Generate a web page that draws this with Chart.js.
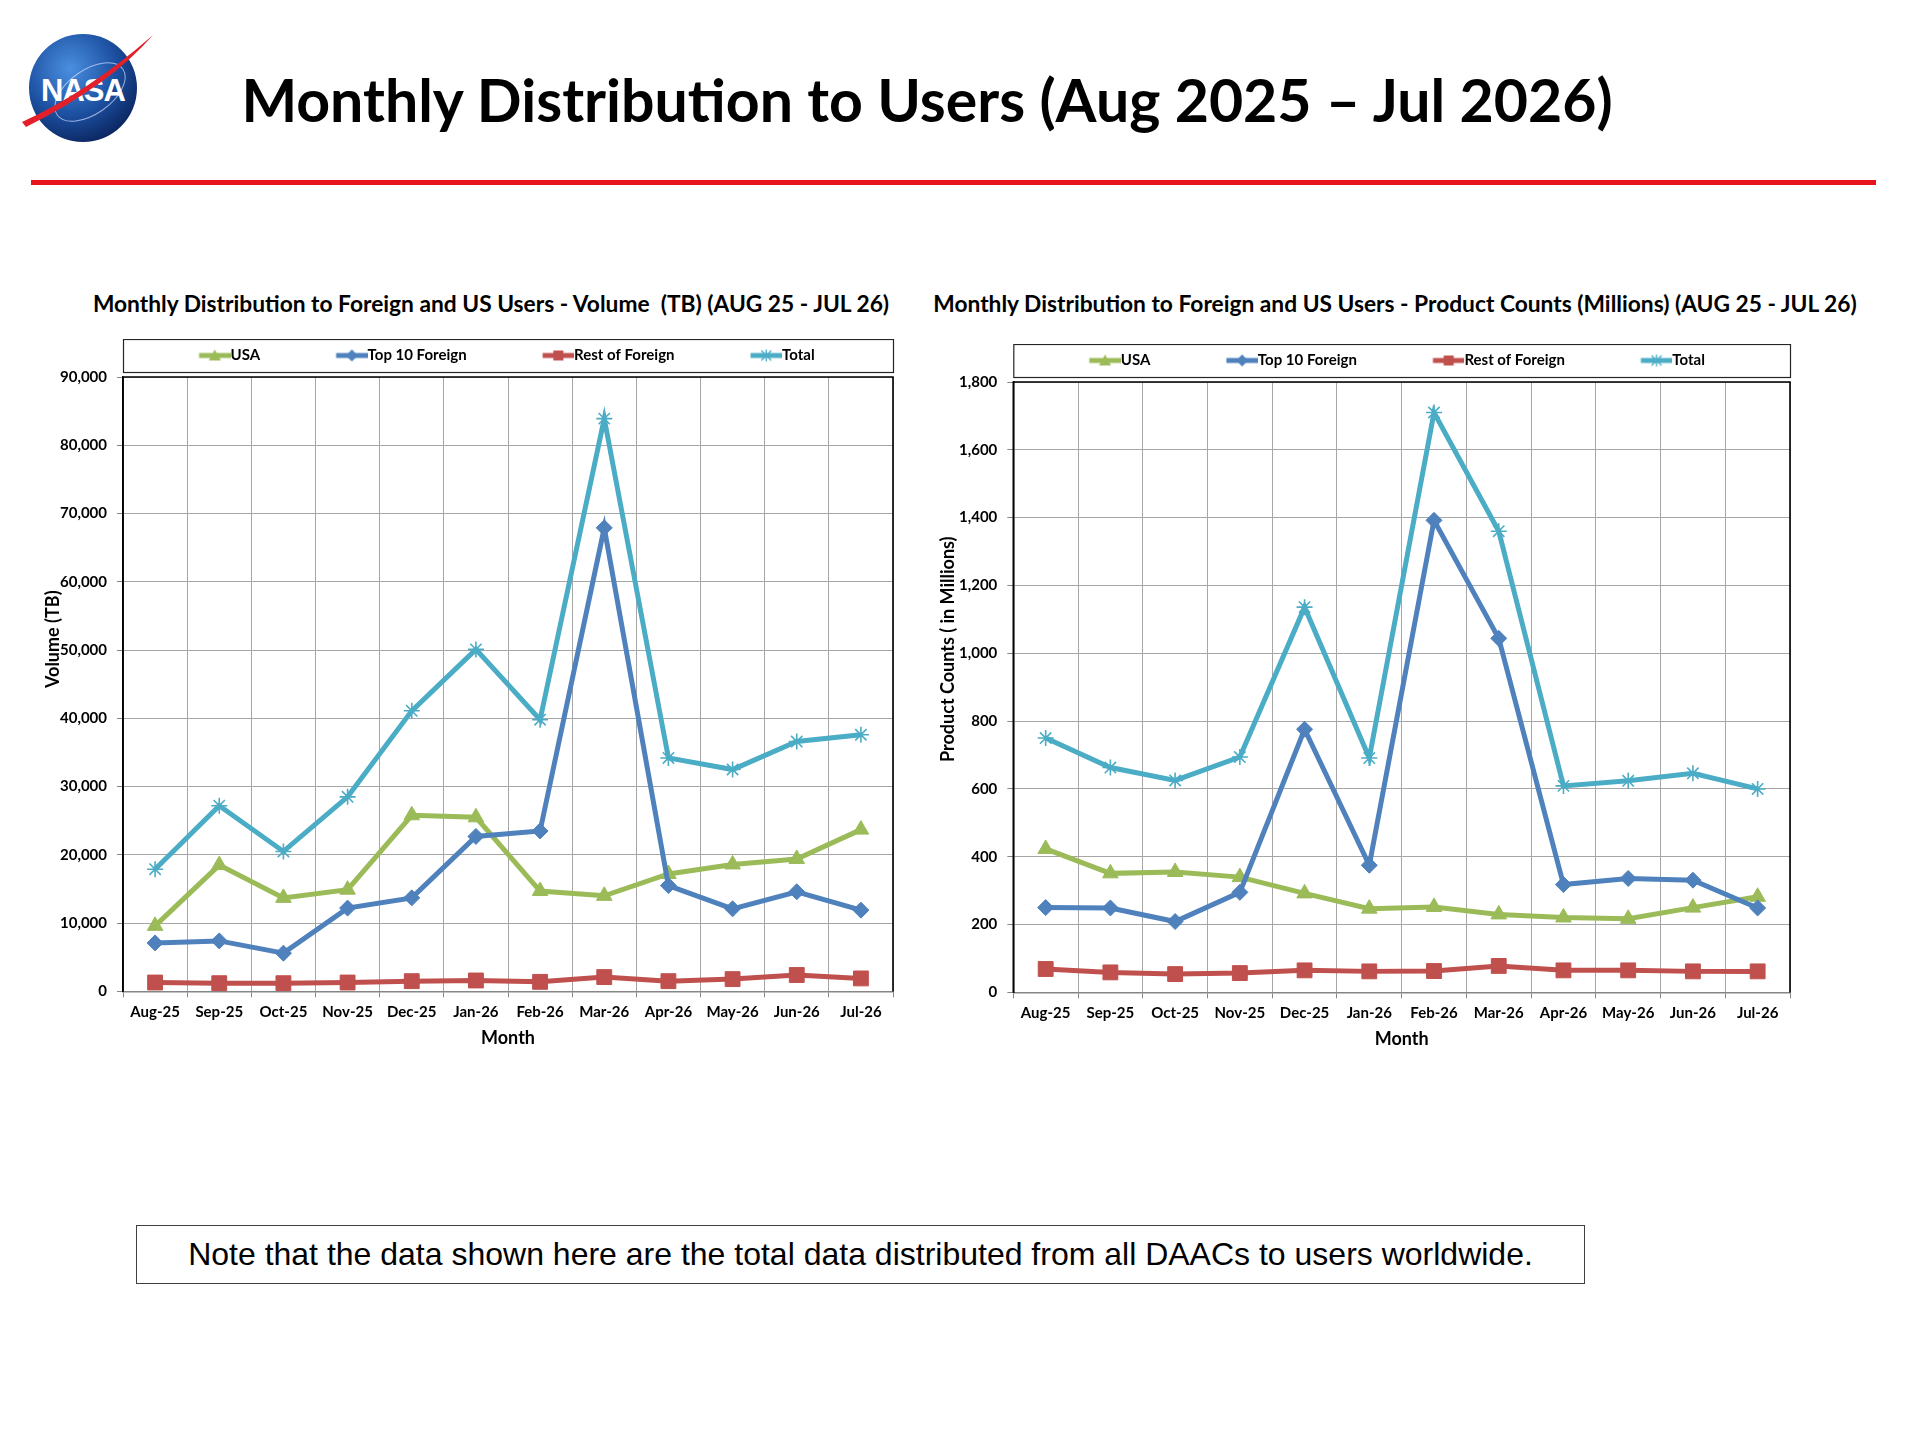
<!DOCTYPE html>
<html>
<head>
<meta charset="utf-8">
<script src="https://cdn.jsdelivr.net/npm/chart.js@4.4.0/dist/chart.umd.min.js"></script>
<style>
  html, body { margin: 0; padding: 0; background: #fff; }
  body { width: 1920px; height: 1440px; position: relative; overflow: hidden;
         font-family: Lato, 'Open Sans', sans-serif; color: #000; }
  #logo { position: absolute; left: 18px; top: 30px; }
  #title { position: absolute; left: 139px; width: 1576px; top: 64px; line-height: 72px;
           text-align: center; font-size: 59px; font-weight: 700; white-space: nowrap; }
  #rule { position: absolute; left: 31px; width: 1845px; top: 180px; height: 5px; background: #e8141c; }
  .ctitle { position: absolute; top: 290px; line-height: 28px; font-size: 22.75px; font-weight: 700;
            text-align: center; white-space: nowrap; }
  #volTitle { left: 41px; width: 900px; }
  #cntTitle { left: 895px; width: 1000px; }
  .chart { position: absolute; }
  #volWrap { left: 30px; top: 339px; width: 890px; height: 731px; }
  #cntWrap { left: 925px; top: 344px; width: 900px; height: 726px; }
  #note { position: absolute; left: 136px; top: 1225px; width: 1449px; height: 59px;
          border: 1px solid #404040; box-sizing: border-box; display: flex; align-items: center;
          justify-content: center; font: 32px 'Liberation Sans', Arial, sans-serif; white-space: nowrap; }
</style>
</head>
<body>
<svg id="logo" width="150" height="125" viewBox="0 0 150 125">
  <defs>
    <radialGradient id="globe" cx="38%" cy="32%" r="72%">
      <stop offset="0" stop-color="#4a8fe0"/>
      <stop offset="0.6" stop-color="#1c4fa0"/>
      <stop offset="1" stop-color="#0b2660"/>
    </radialGradient>
  </defs>
  <circle cx="65" cy="58" r="54" fill="url(#globe)"/>
  <ellipse cx="72" cy="62" rx="40" ry="22" fill="none" stroke="#cfe0ff" stroke-width="1" opacity="0.7" transform="rotate(-35 72 62)"/>
  <text x="65" y="71" text-anchor="middle" font-family="'Liberation Sans', Arial" font-weight="bold"
        font-size="31" fill="#fff" letter-spacing="-1">NASA</text>
  <path d="M4 92 Q 70 62 135 5 Q 92 55 8 97 Z" fill="#e3202a"/>
</svg>
<div id="title">Monthly Distribution to Users (Aug 2025 – Jul 2026)</div>
<div id="rule"></div>
<div class="ctitle" id="volTitle">Monthly Distribution to Foreign and US Users - Volume&nbsp; (TB) (AUG 25 - JUL 26)</div>
<div class="ctitle" id="cntTitle">Monthly Distribution to Foreign and US Users - Product Counts (Millions) (AUG 25 - JUL 26)</div>
<div class="chart" id="volWrap"><canvas id="volChart"></canvas></div>
<div class="chart" id="cntWrap"><canvas id="cntChart"></canvas></div>
<div id="note">Note that the data shown here are the total data distributed from all DAACs to users worldwide.</div>

<script>
const months = ['Aug-25', 'Sep-25', 'Oct-25', 'Nov-25', 'Dec-25', 'Jan-26',
                'Feb-26', 'Mar-26', 'Apr-26', 'May-26', 'Jun-26', 'Jul-26'];
const seriesNames = ['USA', 'Top 10 Foreign', 'Rest of Foreign', 'Total'];

// Volume (TB)
const volumeUSA   = [9600, 18500, 13700, 14900, 25800, 25500, 14700, 14000, 17200, 18600, 19400, 23700];
const volumeTop10 = [7100, 7400, 5600, 12200, 13700, 22700, 23500, 67900, 15500, 12100, 14600, 11900];
const volumeRest  = [1300, 1200, 1200, 1300, 1500, 1600, 1400, 2100, 1500, 1800, 2400, 1900];
const volumeTotal = [17900, 27200, 20500, 28500, 41100, 50100, 39800, 83900, 34200, 32500, 36600, 37600];

// Product counts (millions)
const countUSA   = [423, 351, 355, 340, 292, 247, 252, 230, 221, 217, 250, 282];
const countTop10 = [250, 249, 209, 295, 776, 375, 1392, 1044, 318, 336, 331, 249];
const countRest  = [69, 59, 54, 57, 65, 62, 63, 78, 65, 65, 62, 62];
const countTotal = [750, 663, 625, 694, 1136, 691, 1710, 1360, 609, 624, 646, 600];

const volumeAxis = { max: 90000, step: 10000 };
const countAxis = { max: 1800, step: 200 };

const colors = ['#9bbb59', '#4f81bd', '#c0504d', '#4bacc6'];
const markers = ['triangle', 'rectRot', 'rect', 'star'];
const markerSizes = [9, 8, 10.5, 8];

const FONT = 'Lato, "Open Sans", sans-serif';
const LEGEND_FONT = 15;
const LEGEND_PAD = 9;
const LEGEND_SPACE = 67;   // blank space before each legend line
const LEGEND_LINE = 24;
const LEGEND_BOX_H = 33;
const LEGEND_GAP = 5;

// small "line + marker" picture used as the legend symbol
const makeSwatch = (color, shape) => {
    const gap = LEGEND_FONT / 2;
    const w = LEGEND_SPACE + LEGEND_LINE + gap * 2;
    const c = document.createElement('canvas');
    c.width = w; c.height = 18;
    const ctx = c.getContext('2d');
    const x0 = gap + LEGEND_SPACE;
    const cy = 9;
    ctx.strokeStyle = color;
    ctx.fillStyle = color;
    ctx.lineWidth = 5;
    ctx.beginPath(); ctx.moveTo(x0, cy); ctx.lineTo(w, cy); ctx.stroke();
    const cx = (x0 + w) / 2;
    ctx.beginPath();
    if (shape === 'triangle') {
        ctx.moveTo(cx, cy - 6); ctx.lineTo(cx + 6, cy + 5); ctx.lineTo(cx - 6, cy + 5); ctx.closePath(); ctx.fill();
    } else if (shape === 'rectRot') {
        ctx.moveTo(cx, cy - 6); ctx.lineTo(cx + 6, cy); ctx.lineTo(cx, cy + 6); ctx.lineTo(cx - 6, cy); ctx.closePath(); ctx.fill();
    } else if (shape === 'rect') {
        ctx.fillRect(cx - 5, cy - 5, 10, 10);
    } else {
        ctx.lineWidth = 1.3;
        ctx.moveTo(cx - 5, cy - 5); ctx.lineTo(cx + 5, cy + 5);
        ctx.moveTo(cx + 5, cy - 5); ctx.lineTo(cx - 5, cy + 5);
        ctx.moveTo(cx, cy - 6); ctx.lineTo(cx, cy + 6);
        ctx.stroke();
    }
    return c;
};
const swatches = colors.map((c, i) => makeSwatch(c, markers[i]));

// plot frame + boxed legend, as in the spreadsheet chart
const framePlugin = {
    id: 'frame',
    afterInit(chart) {
        const legend = chart.legend;
        const fit = legend.fit;
        legend.fit = function () {
            fit.call(this);
            this.height = LEGEND_BOX_H + LEGEND_GAP;
        };
    },
    beforeDatasetsDraw(chart) {
        const { ctx, chartArea: a } = chart;
        ctx.save();
        ctx.strokeStyle = '#000';
        ctx.lineWidth = 1.6;
        ctx.beginPath();
        ctx.moveTo(a.left, a.bottom);
        ctx.lineTo(a.left, a.top);
        ctx.lineTo(a.right, a.top);
        ctx.lineTo(a.right, a.bottom);
        ctx.stroke();
        ctx.restore();
    },
    afterDraw(chart) {
        const { ctx, chartArea: a, legend } = chart;
        ctx.save();
        ctx.strokeStyle = '#262626';
        ctx.lineWidth = 1.2;
        ctx.strokeRect(a.left + 0.5, legend.top + 0.5, a.right - a.left, LEGEND_BOX_H);
        ctx.restore();
    }
};

// vertical axis title, placed off-centre like the original
const sideTitle = (text, x, lift) => ({
    id: 'sideTitle',
    afterDraw(chart) {
        const { ctx, chartArea: a } = chart;
        ctx.save();
        ctx.translate(x, (a.top + a.bottom) / 2 - lift);
        ctx.rotate(-Math.PI / 2);
        ctx.font = `bold 18px ${FONT}`;
        ctx.fillStyle = '#000';
        ctx.textAlign = 'center';
        ctx.textBaseline = 'middle';
        ctx.fillText(text, 0, 0);
        ctx.restore();
    }
});

const buildChart = (canvasId, cfg) => {
    const datasets = cfg.series.map((values, i) => ({
        label: seriesNames[i],
        data: values,
        borderColor: colors[i],
        backgroundColor: colors[i],
        borderWidth: 5,
        pointStyle: markers[i],
        pointRadius: markerSizes[i],
        pointBackgroundColor: colors[i],
        pointBorderColor: colors[i],
        pointBorderWidth: i === 3 ? 1.6 : 1,
        tension: 0,
        order: 4 - i
    }));

    return new Chart(document.getElementById(canvasId), {
        type: 'line',
        data: { labels: months, datasets },
        plugins: [framePlugin, sideTitle(cfg.yTitle, cfg.yTitleX, cfg.yTitleLift)],
        options: {
            responsive: true,
            maintainAspectRatio: false,
            animation: false,
            layout: { padding: cfg.padding },
            plugins: {
                legend: {
                    position: 'top',
                    align: 'start',
                    fullSize: false,
                    labels: {
                        usePointStyle: true,
                        pointStyleWidth: LEGEND_SPACE + LEGEND_LINE,
                        boxHeight: LEGEND_FONT,
                        padding: LEGEND_PAD,
                        color: '#000',
                        font: { family: FONT, size: LEGEND_FONT, weight: 'bold' },
                        generateLabels: (chart) => chart.data.datasets.map((ds, i) => ({
                            text: ds.label,
                            pointStyle: swatches[i],
                            fillStyle: ds.borderColor,
                            strokeStyle: ds.borderColor,
                            lineWidth: 0,
                            hidden: false,
                            datasetIndex: i,
                            fontColor: '#000'
                        }))
                    }
                },
                tooltip: { enabled: false }
            },
            scales: {
                x: {
                    offset: true,
                    grid: { offset: true, color: '#a6a6a6', lineWidth: 1, tickLength: 6, tickColor: '#868686' },
                    border: { color: '#868686', width: 1.5 },
                    ticks: {
                        autoSkip: false, maxRotation: 0, padding: 6, color: '#000',
                        font: { family: FONT, size: 15, weight: 'bold' }
                    },
                    title: {
                        display: true, text: 'Month', color: '#000',
                        font: { family: FONT, size: 18, weight: 'bold' },
                        padding: { top: 0, bottom: 4 }
                    }
                },
                y: {
                    min: 0,
                    max: cfg.axis.max,
                    grid: { color: '#a6a6a6', lineWidth: 1, tickLength: 6, tickColor: '#868686' },
                    border: { color: '#000', width: 1.5 },
                    ticks: {
                        stepSize: cfg.axis.step, padding: 10, color: '#000',
                        font: { family: FONT, size: 15, weight: 'bold' },
                        callback: (v) => Number(v).toLocaleString('en-US')
                    }
                }
            }
        }
    });
};

buildChart('volChart', {
    yTitle: 'Volume (TB)',
    yTitleX: 22.7,
    yTitleLift: 45,
    series: [volumeUSA, volumeTop10, volumeRest, volumeTotal],
    axis: volumeAxis,
    padding: { left: 20, right: 27, top: 0, bottom: 17 }
});

buildChart('cntChart', {
    yTitle: 'Product Counts ( in Millions)',
    yTitleX: 22.8,
    yTitleLift: 38,
    series: [countUSA, countTop10, countRest, countTotal],
    axis: countAxis,
    padding: { left: 24, right: 35, top: 0, bottom: 16 }
});
</script>
</body>
</html>
